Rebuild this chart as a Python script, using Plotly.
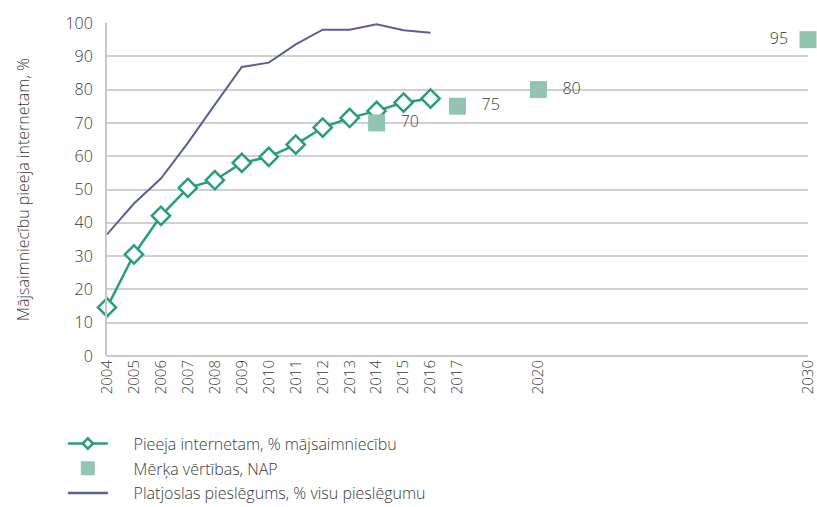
import plotly.graph_objects as go

years = [2004, 2005, 2006, 2007, 2008, 2009, 2010, 2011, 2012, 2013, 2014, 2015, 2016]
internet = [14.6, 30.5, 42.1, 50.5, 52.8, 58.0, 59.8, 63.5, 68.6, 71.5, 73.6, 76.1, 77.3]
broadband = [36.5, 45.8, 53.3, 64.0, 75.5, 86.8, 88.1, 93.6, 98.0, 98.0, 99.6, 97.8, 97.1]
target_years = [2014, 2017, 2020, 2030]
target_vals = [70, 75, 80, 95]
tick_years = [2004, 2005, 2006, 2007, 2008, 2009, 2010, 2011, 2012, 2013, 2014, 2015, 2016, 2017, 2020, 2030]

names = ["Pieeja internetam, % mājsaimniecību", "Mērķa vērtības, NAP", "Platjoslas pieslēgums, % visu pieslēgumu"]
ytitle = "Mājsaimniecību pieeja internetam, %"

FONT = "Open Sans"
TXT = "#3A3A3A"
PAD = "\u00a0" * 5
GREEN = "#2A9D7C"
LIGHT = "#92C5B1"
PURPLE = "#5B5F97"

fig = go.Figure()
# data traces
fig.add_trace(go.Scatter(
    x=years, y=internet, mode="lines+markers", showlegend=False,
    line=dict(color=GREEN, width=2.5),
    marker=dict(symbol="diamond", size=14, color="white", line=dict(color=GREEN, width=2.5)),
    cliponaxis=False,
))
fig.add_trace(go.Scatter(
    x=target_years, y=target_vals, mode="markers+text", showlegend=False,
    marker=dict(symbol="square", size=17, color=LIGHT),
    text=["   " + str(v) if i < 3 else str(v) + "  " for i, v in enumerate(target_vals)],
    textposition=["middle right", "middle right", "middle right", "middle left"],
    textfont=dict(family=FONT, size=16, color=TXT, weight=300),
    cliponaxis=False,
))
fig.add_trace(go.Scatter(
    x=years, y=broadband, mode="lines", showlegend=False,
    line=dict(color=PURPLE, width=2),
    cliponaxis=False,
))
# legend entries
fig.add_trace(go.Scatter(
    x=[None], y=[None], mode="lines+markers", name=PAD + names[0], legendgroup="a",
    line=dict(color=GREEN, width=2.5),
    marker=dict(symbol="diamond", size=8, color="white", line=dict(color=GREEN, width=2.5)),
))
fig.add_trace(go.Scatter(
    x=[None], y=[None], mode="markers", name=PAD + names[1], legendgroup="b",
    marker=dict(symbol="square", size=14, color=LIGHT),
))
fig.add_trace(go.Scatter(
    x=[None], y=[None], mode="lines", name=PAD + names[2], legendgroup="c",
    line=dict(color=PURPLE, width=2.5),
))

fig.update_layout(
    width=817, height=507,
    margin=dict(l=107, r=9, t=23, b=151, autoexpand=False),
    paper_bgcolor="white", plot_bgcolor="white",
    font=dict(family=FONT, size=15, color=TXT, weight=300),
    showlegend=True,
    legend=dict(
        orientation="v", x=-0.063, y=-0.212, xanchor="left", yanchor="top",
        font=dict(family=FONT, size=16, color=TXT, weight=300),
        tracegroupgap=1, itemwidth=40,
    ),
    xaxis=dict(
        range=[2004, 2030], tickmode="array", tickvals=tick_years,
        ticktext=[str(t) for t in tick_years], tickangle=-90,
        showgrid=False, zeroline=False, showline=False, automargin=False,
        tickfont=dict(family=FONT, size=15, color=TXT, weight=300),
    ),
    yaxis=dict(
        range=[0, 100], dtick=10, showgrid=True, gridcolor="#D0D0D0", gridwidth=1.5,
        zeroline=True, zerolinecolor="#C8C8C8", zerolinewidth=2,
        showline=True, linecolor="#C8C8C8", linewidth=2, automargin=False,
        tickfont=dict(family=FONT, size=16, color=TXT, weight=300),
        title=dict(text=ytitle, font=dict(family=FONT, size=16, color=TXT, weight=300), standoff=32),
        ticks="outside", ticklen=9, tickcolor="rgba(0,0,0,0)",
    ),
)

fig.write_html(
    "out.html",
    config={"displayModeBar": False},
    post_script="document.body.style.margin='0';document.body.style.overflow='hidden';",
)
